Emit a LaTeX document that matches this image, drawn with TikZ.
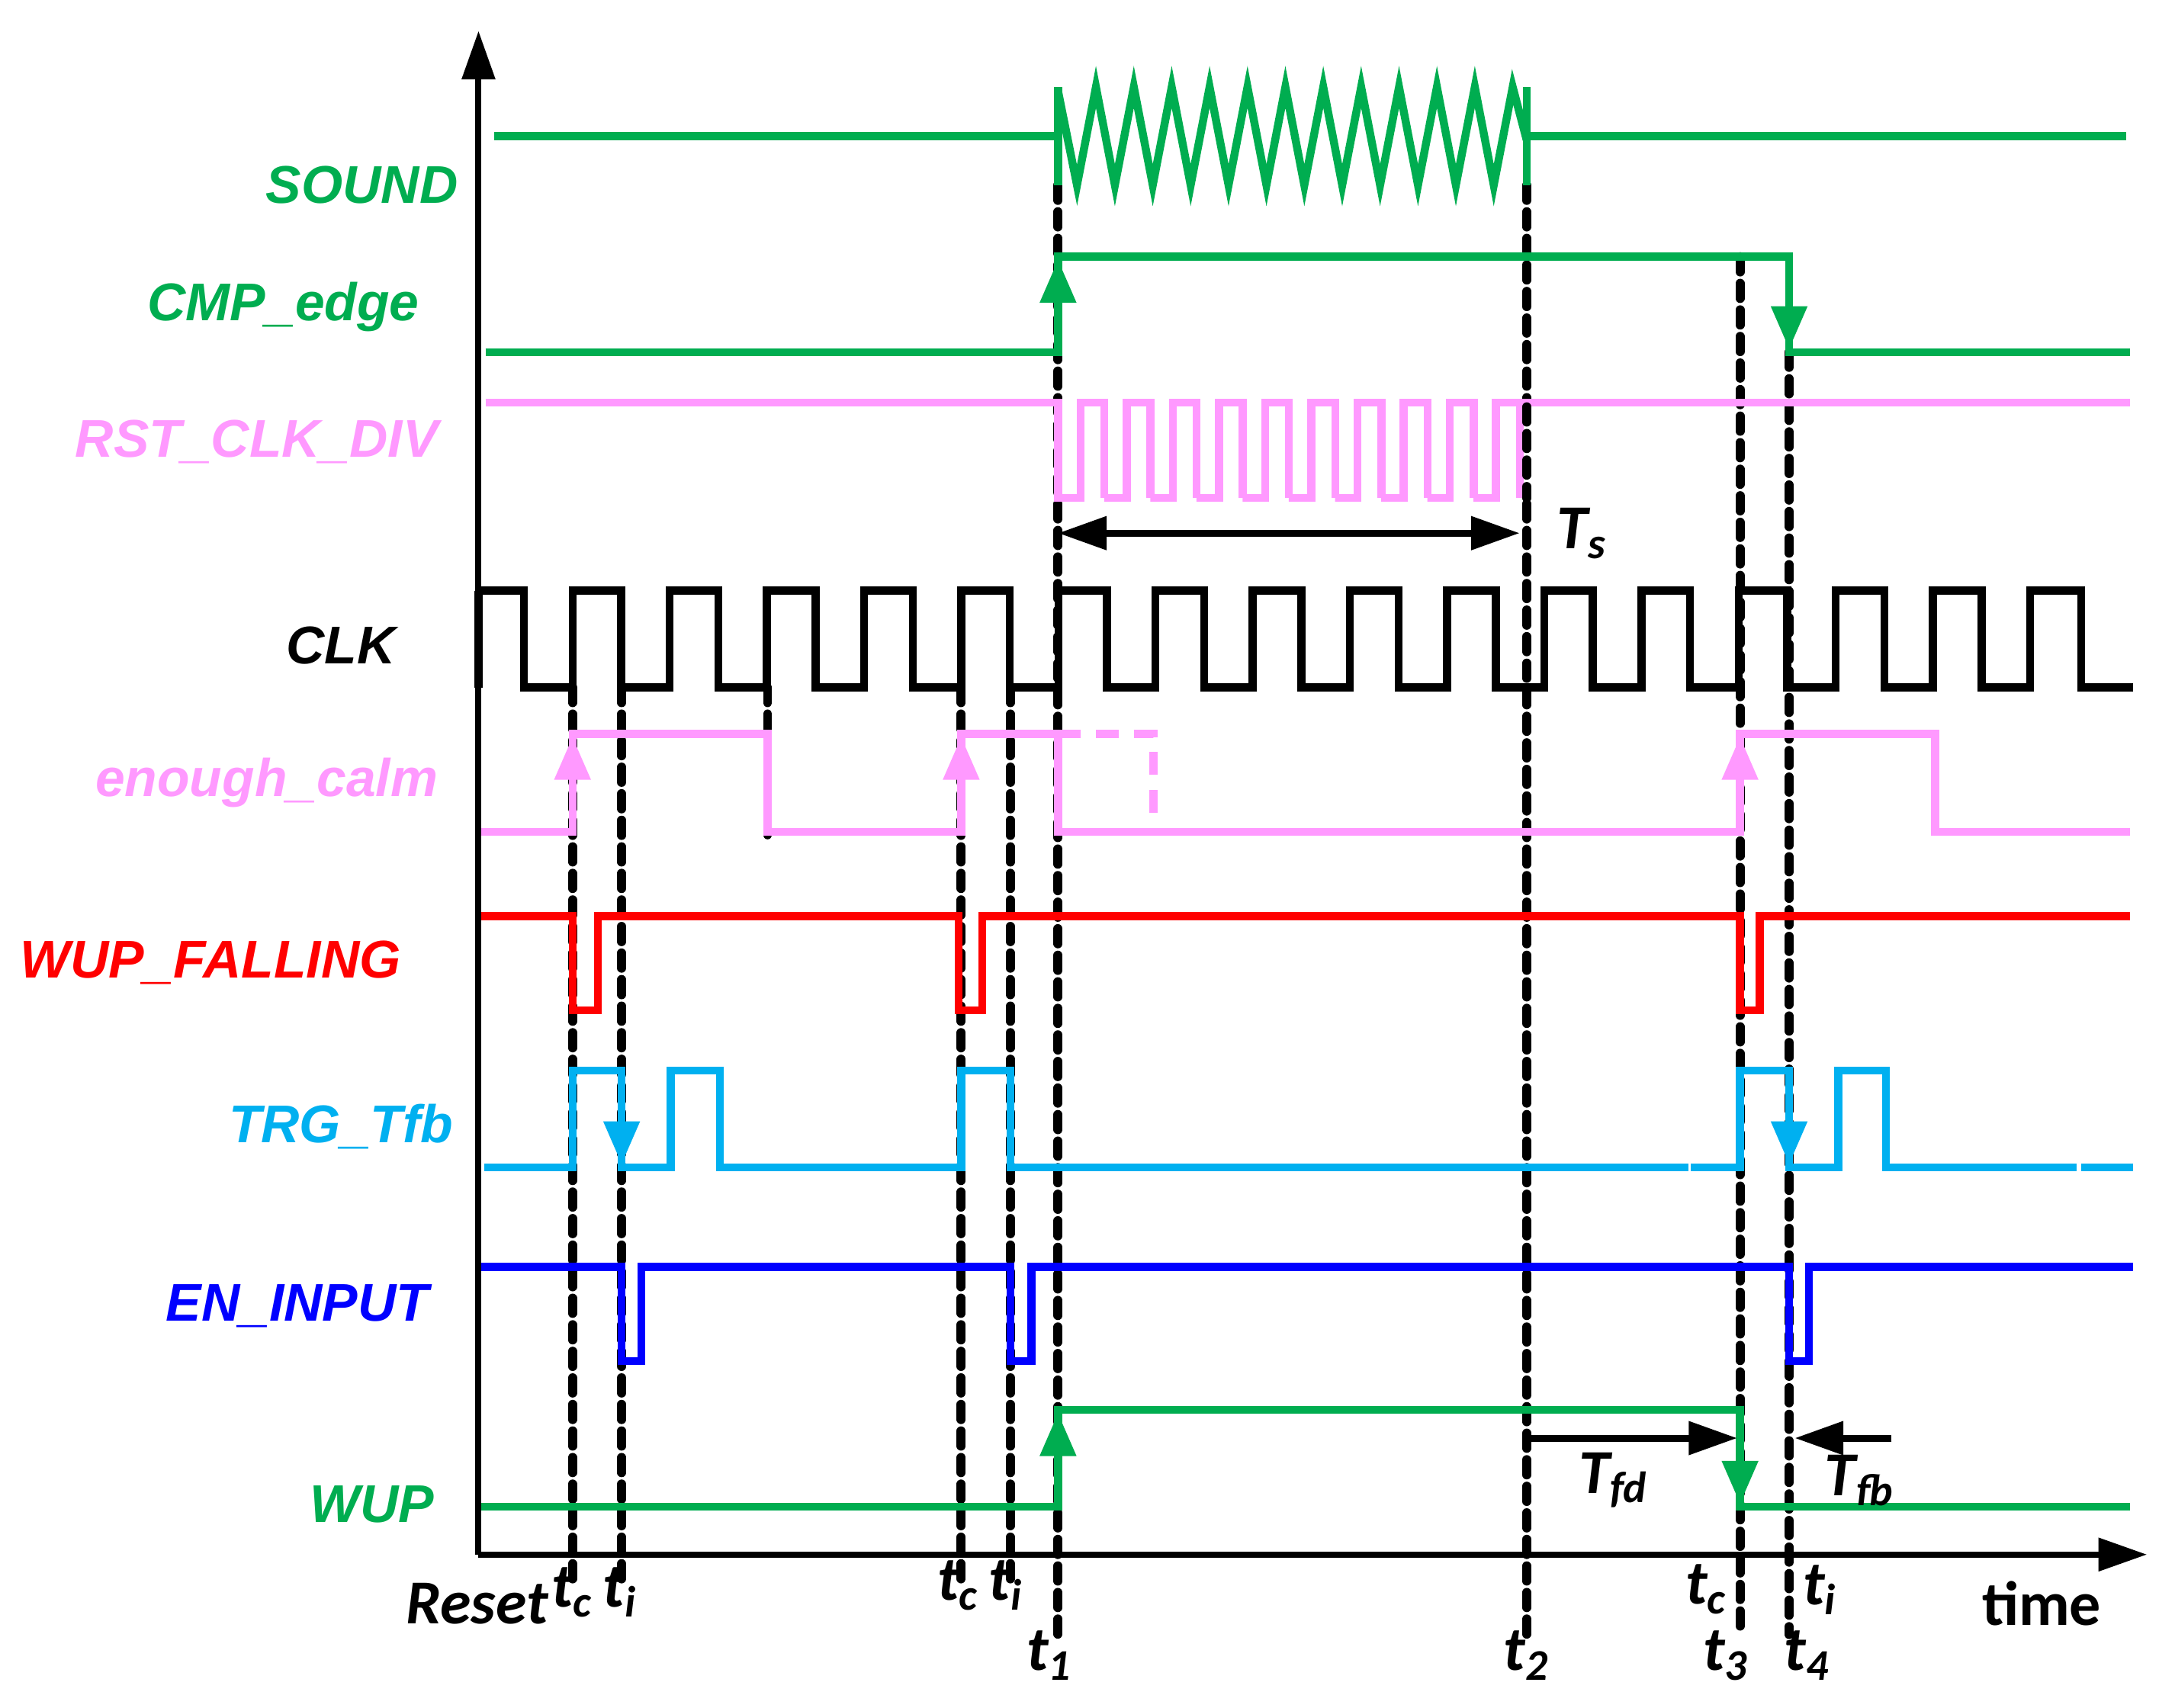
\documentclass[tikz,border=0pt]{standalone}
\usepackage{fontspec}
\setmainfont{Liberation Sans}
\newfontfamily\carl{Carlito}
\usetikzlibrary{arrows.meta}
\definecolor{sg}{RGB}{0,173,80}
\definecolor{pk}{RGB}{255,153,255}
\definecolor{cy}{RGB}{0,176,240}
\definecolor{bl}{RGB}{0,0,255}
\begin{document}
\begin{tikzpicture}[x=0.013cm,y=-0.013cm,
  sig/.style={line width=2.1pt,line join=miter},
  tip/.style={-{Triangle[length=4mm,width=3.2mm]},line width=2.1pt},
  dot/.style={line width=2.4pt,dash pattern=on 4pt off 3pt,line cap=round},
  lab/.style={font=\fontsize{14}{16}\selectfont\bfseries\itshape},
  tl/.style={font=\carl\fontsize{16.5}{18}\selectfont\bfseries\itshape},
  dim/.style={{Triangle[length=4.5mm,width=3mm]}-{Triangle[length=4.5mm,width=3mm]},line width=1.8pt},
  dimr/.style={-{Triangle[length=4.5mm,width=3mm]},line width=1.8pt}]
\useasboundingbox (0,0) rectangle (1550,1217);
% axes
\coordinate (o) at (341,1108);
\coordinate (ytop) at (341,22);
\coordinate (xend) at (1530,1108);
\draw[line width=1.6pt,-{Triangle[length=4.5mm,width=3mm]}] (o) -- (ytop);
\draw[line width=1.6pt,-{Triangle[length=4.5mm,width=3mm]}] (o) -- (xend);
% dotted lines
\foreach \x/\a/\b in {408/490/1130,443/490/1130,547/490/595,685/490/1130,720/490/1130,754/132/1165,1088/132/1165,1240/183/1165,1275/251/1165}
  \draw[dot] (\x,\a) -- (\x,\b);
% SOUND
\draw[sig,sg] (352,97) -- (754,97);
\draw[sig,sg] (754,62) -- (754,132);
\draw[sig,sg] (754,65) \foreach \k in {0,...,11} {-- ({767.5+27*\k},132) -- ({781+27*\k},62)} -- (1088,100);
\draw[sig,sg] (1088,62) -- (1088,132);
\draw[sig,sg] (1088,97) -- (1515,97);
% CMP_edge
\draw[sig,sg] (346,251) -- (754,251) -- (754,183) -- (1275,183) -- (1275,251) -- (1518,251);
\draw[tip,sg] (754,251) -- (754,185);
\draw[tip,sg] (1275,183) -- (1275,249);
% RST_CLK_DIV
\draw[sig,pk] (346,287) -- (754,287) \foreach \k in {0,...,9} {-- ({754+32.9*\k},355) -- ({770+32.9*\k},355) -- ({770+32.9*\k},287) -- ({787+32.9*\k},287) -- ({787+32.9*\k},355)} ;
\draw[sig,pk] (1083,355) -- (1083,287) -- (1518,287);
\draw[sig,pk] (754,287) -- (754,355);
\fill[white] (1086,290) rectangle (1092,352);
\draw[dot] (1088,290) -- (1088,355);
% Ts
\coordinate (tsa) at (754,380); \coordinate (tsb) at (1083,380);
\draw[dim] (tsa) -- (tsb);
\node[tl,anchor=west] (ts) at (1100,380) {T\textsubscript{s}};
% CLK
\draw[sig,black] (341,421) \foreach \k in {0,...,15} {-- ({373.4+69.25*\k},421) -- ({373.4+69.25*\k},490) -- ({408+69.25*\k},490) -- ({408+69.25*\k},421)} -- (1483,421) -- (1483,490) -- (1520,490);
\draw[sig,black] (341,421) -- (341,490);
% enough_calm
\draw[sig,pk] (343,593) -- (408,593) -- (408,523) -- (547,523) -- (547,593) -- (685,593) -- (685,523) -- (754,523) -- (754,593) -- (1240,593) -- (1240,523) -- (1379,523) -- (1379,593) -- (1518,593);
\draw[pk,line width=2.1pt,dash pattern=on 6pt off 4pt] (754,523) -- (822,523) -- (822,593);
\foreach \x in {408,685,1240} \draw[tip,pk] (\x,593) -- (\x,525);
% WUP_FALLING
\draw[sig,red] (343,653) -- (408,653) -- (408,720) -- (426,720) -- (426,653) -- (683,653) -- (683,720) -- (700,720) -- (700,653) -- (1240,653) -- (1240,720) -- (1254,720) -- (1254,653) -- (1518,653);
% TRG_Tfb
\draw[sig,cy] (345,832) -- (408,832) -- (408,763) -- (443,763) -- (443,832) -- (478,832) -- (478,763) -- (513,763) -- (513,832) -- (685,832) -- (685,763) -- (720,763) -- (720,832) -- (1203,832);
\draw[sig,cy] (1205,832) -- (1240,832) -- (1240,763) -- (1275,763) -- (1275,832) -- (1310,832) -- (1310,763) -- (1344,763) -- (1344,832) -- (1480,832);
\draw[sig,cy] (1483,832) -- (1520,832);
\foreach \x in {443,1275} \draw[tip,cy] (\x,763) -- (\x,830);
% EN_INPUT
\draw[sig,bl] (343,903) -- (443,903) -- (443,970) -- (457,970) -- (457,903) -- (720,903) -- (720,970) -- (735,970) -- (735,903) -- (1275,903) -- (1275,970) -- (1289,970) -- (1289,903) -- (1520,903);
% WUP
\draw[sig,sg] (343,1074) -- (754,1074) -- (754,1005) -- (1240,1005) -- (1240,1074) -- (1518,1074);
\draw[tip,sg] (754,1074) -- (754,1007);
\draw[tip,sg] (1240,1005) -- (1240,1072);
% Tfd, Tfb
\coordinate (fda) at (1090,1025); \coordinate (fdb) at (1238,1025);
\draw[dimr] (fda) -- (fdb);
\coordinate (fba) at (1348,1025); \coordinate (fbb) at (1279,1025);
\draw[dimr] (fba) -- (fbb);
\node[tl] (tfd) at (1150,1055) {T\textsubscript{fd}};
\node[tl] (tfb) at (1325,1055) {T\textsubscript{fb}};
% signal labels
\node[lab,text=sg] (l1) at (258,132) {SOUND};
\node[lab,text=sg] (l2) at (202,219) {CMP\_edge};
\node[lab,text=pk] (l3) at (183,315) {RST\_CLK\_DIV};
\node[lab,text=black] (l4) at (243,460) {CLK};
\node[lab,text=pk] (l5) at (190,558) {enough\_calm};
\node[lab,text=red] (l6) at (150,686) {WUP\_FALLING};
\node[lab,text=cy] (l7) at (243,803) {TRG\_Tfb};
\node[lab,text=bl] (l8) at (212,931) {EN\_INPUT};
\node[lab,text=sg] (l9) at (265,1072) {WUP};
% time labels
\node[tl] (reset) at (340,1143) {Reset};
\node[tl] (a1) at (408,1135) {t\textsubscript{c}};
\node[tl] (a2) at (442,1135) {t\textsubscript{i}};
\node[tl] (a3) at (683,1130) {t\textsubscript{c}};
\node[tl] (a4) at (717,1130) {t\textsubscript{i}};
\node[tl] (a5) at (748,1180) {t\textsubscript{1}};
\node[tl] (a6) at (1088,1180) {t\textsubscript{2}};
\node[tl] (a7) at (1216,1133) {t\textsubscript{c}};
\node[tl] (a8) at (1230,1180) {t\textsubscript{3}};
\node[tl] (a9) at (1297,1133) {t\textsubscript{i}};
\node[tl] (a10) at (1288,1180) {t\textsubscript{4}};
\node[tl,font=\carl\fontsize{16.5}{18}\selectfont\bfseries] (time) at (1455,1143) {time};
\end{tikzpicture}
\end{document}
